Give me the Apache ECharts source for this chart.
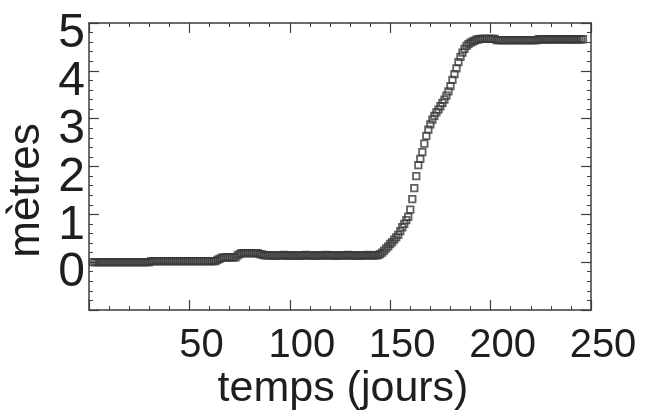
<!DOCTYPE html>
<html>
<head>
<meta charset="utf-8">
<script src="https://cdn.jsdelivr.net/npm/echarts@6/dist/echarts.min.js"></script>
<style>
html,body{margin:0;padding:0;background:#fff;}
#chart{width:651px;height:410px;}
</style>
</head>
<body>
<div id="chart"></div>
<script>
// Daily water level (metres), starting at day 2
const firstDay = 2;
const levels = [
  0,0,0,0,0,0,0,0,0,0,
  0,0,0,0,0,0,0,0,0,0,
  0,0,0,0,0,0,0,0,0,0.02,
  0.02,0.02,0.02,0.02,0.02,0.02,0.02,0.02,0.02,0.02,
  0.02,0.02,0.02,0.02,0.02,0.02,0.02,0.02,0.02,0.02,
  0.02,0.02,0.02,0.02,0.02,0.02,0.02,0.02,0.02,0.02,
  0.02,0.02,0.05,0.07,0.09,0.10,0.10,0.10,0.10,0.10,
  0.10,0.10,0.14,0.17,0.19,0.19,0.19,0.19,0.19,0.19,
  0.19,0.19,0.19,0.17,0.16,0.15,0.14,0.14,0.14,0.14,
  0.14,0.13,0.14,0.14,0.14,0.15,0.14,0.14,0.13,0.14,
  0.14,0.14,0.14,0.13,0.14,0.14,0.15,0.14,0.14,0.14,
  0.13,0.14,0.14,0.14,0.14,0.14,0.15,0.14,0.14,0.14,
  0.14,0.13,0.14,0.14,0.14,0.14,0.14,0.15,0.14,0.14,
  0.14,0.14,0.13,0.14,0.14,0.14,0.14,0.15,0.14,0.14,
  0.14,0.14,0.15,0.17,0.20,0.24,0.29,0.33,0.38,0.42,
  0.47,0.52,0.57,0.65,0.73,0.80,0.88,0.95,1.10,1.32,
  1.55,1.80,2.03,2.16,2.30,2.48,2.64,2.77,2.88,2.98,
  3.06,3.13,3.19,3.26,3.33,3.40,3.48,3.57,3.68,3.81,
  3.93,4.05,4.18,4.29,4.38,4.46,4.52,4.56,4.59,4.61,
  4.63,4.65,4.66,4.67,4.67,4.67,4.67,4.67,4.67,4.67,
  4.67,4.64,4.64,4.64,4.64,4.64,4.64,4.64,4.64,4.64,
  4.64,4.64,4.64,4.64,4.64,4.64,4.64,4.64,4.64,4.64,
  4.64,4.64,4.66,4.66,4.66,4.66,4.66,4.66,4.66,4.66,
  4.66,4.66,4.66,4.66,4.66,4.66,4.66,4.66,4.66,4.66,
  4.66,4.66,4.66,4.66,4.66
];
const xTickLabels = ['50','100','150','200','250'];
const yTickLabels = ['0','1','2','3','4','5'];
const xTitle = 'temps (jours)';
const yTitle = 'mètres';

const points = levels.map((v, i) => [firstDay + i, v]);

const font = 'Liberation Sans, Arial, Helvetica, sans-serif';
const lineCol = '#3c3c3c';
const textCol = '#1e1e1e';

const tickCommon = {
  axisLine: { show: true, onZero: false, lineStyle: { color: lineCol, width: 1.5 } },
  axisTick: { show: true, inside: true, length: 10, lineStyle: { color: lineCol, width: 1.2 } },
  minorTick: { show: true, splitNumber: 5, length: 4, lineStyle: { color: lineCol, width: 1 } },
  splitLine: { show: false },
  minorSplitLine: { show: false }
};

const chart = echarts.init(document.getElementById('chart'), null, { renderer: 'canvas' });
chart.setOption({
  animation: false,
  backgroundColor: '#fff',
  grid: { left: 89, right: 60, top: 23, bottom: 100, containLabel: false, outerBoundsMode: 'none' },
  xAxis: [
    Object.assign({
      type: 'value', position: 'bottom', min: 0, max: 250, interval: 50,
      name: xTitle, nameLocation: 'middle', nameGap: 58, nameMoveOverlap: false,
      nameTextStyle: { fontFamily: font, fontSize: 43, color: textCol, padding: [0, 0, 0, 6] },
      axisLabel: {
        show: true, margin: 16, fontFamily: font, fontSize: 40, color: textCol,
        padding: [0, 0, 0, 24], hideOverlap: false, showMaxLabel: true, showMinLabel: true,
        formatter: v => xTickLabels.includes(String(v)) ? String(v) : ''
      }
    }, tickCommon),
    Object.assign({
      type: 'value', position: 'top', min: 0, max: 250, interval: 50,
      axisLabel: { show: false }
    }, tickCommon)
  ],
  yAxis: [
    Object.assign({
      type: 'value', position: 'left', min: -1, max: 5, interval: 1,
      name: yTitle, nameLocation: 'middle', nameGap: 40, nameRotate: 90, nameMoveOverlap: false,
      nameTextStyle: { fontFamily: font, fontSize: 44, color: textCol, padding: [0, 48, 0, 0] },
      axisLabel: {
        show: true, margin: 4, fontFamily: font, fontSize: 48, color: textCol,
        hideOverlap: false, showMaxLabel: true, showMinLabel: true,
        formatter: v => yTickLabels.includes(String(v)) ? '{d|' + v + '}' : '',
        rich: { d: { fontFamily: font, fontSize: 48, color: textCol, padding: [22, 0, 0, 0] } }
      }
    }, tickCommon),
    Object.assign({
      type: 'value', position: 'right', min: -1, max: 5, interval: 1,
      axisLabel: { show: false }
    }, tickCommon)
  ],
  series: [{
    type: 'scatter',
    xAxisIndex: 0, yAxisIndex: 0,
    data: points,
    symbol: 'rect',
    symbolSize: 6.5,
    itemStyle: { color: 'rgba(255,255,255,0)', borderColor: '#3a3a3a', borderWidth: 1.8 },
    emphasis: { disabled: true }
  }]
});
</script>
</body>
</html>
